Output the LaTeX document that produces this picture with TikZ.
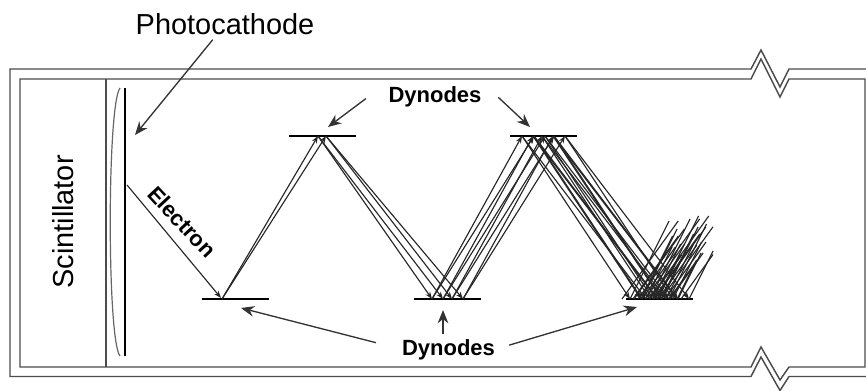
\documentclass[tikz,border=0pt]{standalone}
\usepackage{fontspec}
\setmainfont{Liberation Sans}
\usetikzlibrary{arrows.meta}
\begin{document}
\begin{tikzpicture}[x=0.75pt,y=-0.75pt]
 \tikzset{tube/.style={draw=black!70,line width=1.1pt,line join=miter},
  dynode/.style={line width=2pt},
  ray/.style={draw=black!85,line width=0.85pt,-{Stealth[length=5.5pt,width=4pt]}},
  shortray/.style={draw=black!85,line width=0.85pt},
  pointer/.style={draw=black!80,line width=1pt,-{Stealth[length=10pt,width=8pt]}},
  biglabel/.style={font=\fontsize{21.7}{24}\selectfont,inner sep=0pt},
  boldlabel/.style={font=\fontsize{16.5}{20}\selectfont\bfseries,inner xsep=0pt,inner ysep=3.75pt}}
 \useasboundingbox (0,0) rectangle (866,391);

 %tube walls with the breaks
 \draw[tube] (866,69) -- (789,69) -- (780,87) -- (761,50) -- (751,69) -- (10,69) -- (10,376.5) -- (751,376.5) -- (761,357) -- (780,390.5) -- (789,376.5) -- (866,376.5);
 \draw[tube] (865,79) -- (789,79) -- (780,97) -- (761,59) -- (751,79) -- (20,79) -- (20,367) -- (751,367) -- (761,347) -- (780,380) -- (789,367) -- (865,367) -- cycle;
 \draw[tube,line width=0.8pt] (106,79) -- (106,367);

 %photocathode
 \draw[line width=2.2pt] (125,88) -- (125,356);
 \draw[draw=black!60,line width=0.9pt] (120,88) .. controls (107,105) and (107,340) .. (120,356);

 %dynodes
 \coordinate (dynA) at (202,299);
 \coordinate (dynB) at (289,136);
 \coordinate (dynC) at (414,299);
 \coordinate (dynD) at (510,136);
 \coordinate (dynE) at (626,299);
 \foreach \bar in {dynA,dynB,dynC,dynD,dynE}
  \draw[dynode] (\bar) -- ++(67,0);

 %electron from the cathode
 \coordinate (emit) at (127,185);
 \coordinate (hitA) at (221,298);
 \draw[ray] (emit) -- (hitA);

 %rays between the dynodes
 \foreach \xa in {318,326}
  \draw[ray] (222,299) -- (\xa,136);
 \foreach \xa/\xb in {318/432,318/443,326/452,326/463}
  \draw[ray] (\xa,136) -- (\xb,299);
 \foreach \xb in {432,443,452,463}
  \foreach \dx in {90,102} {
   \draw[ray] (\xb,299) -- (\xb+\dx,136);
   \foreach \ex in {108,124} {
    \draw[ray] (\xb+\dx,136) -- (\xb+\dx+\ex,299);
    %short rays leaving the last dynode
    \pgfmathsetmacro{\land}{\xb+\dx+\ex}
    \pgfmathsetmacro{\rise}{38+mod(\land*7,46)}
    \pgfmathsetmacro{\endA}{min(\land+0.5*\rise,713)}
    \pgfmathsetmacro{\endB}{min(\land-8+0.72*\rise,713)}
    \draw[shortray] (\land,299) -- (\endA,{299-(\endA-\land)/0.5});
    \draw[shortray] (\land-8,299) -- (\endB,{299-(\endB-\land+8)/0.72});
   }
  }

 %labels
 \node[biglabel,anchor=base] (photocathode) at (225,35) {Photocathode};
 \node[biglabel,anchor=base,rotate=90] (scintillator) at (73,222) {Scintillator};
 \node[boldlabel,anchor=base] (dynodesTop) at (435,103) {Dynodes};
 \node[boldlabel,anchor=base] (dynodesBot) at (448.5,355) {Dynodes};
 \node[boldlabel,inner ysep=0pt,rotate=-47] (electron) at (182,222) {Electron};

 %pointers
 \coordinate (tipCathode) at (135,135);
 \coordinate (tipB) at (328,127);
 \coordinate (tipD) at (530,127);
 \coordinate (tipA) at (241,308);
 \coordinate (tipC) at (443,310);
 \coordinate (tipE) at (637,307);
 \draw[pointer,shorten <=4pt] (photocathode) -- (tipCathode);
 \draw[pointer,shorten <=21pt] (dynodesTop.north west) -- (tipB);
 \draw[pointer,shorten <=17pt] (dynodesTop.north east) -- (tipD);
 \draw[pointer,shorten <=20pt] (dynodesBot.west) -- (tipA);
 \draw[pointer] (dynodesBot.north -| tipC) -- (tipC);
 \draw[pointer,shorten <=11pt] (dynodesBot.east) -- (tipE);
\end{tikzpicture}
\end{document}
